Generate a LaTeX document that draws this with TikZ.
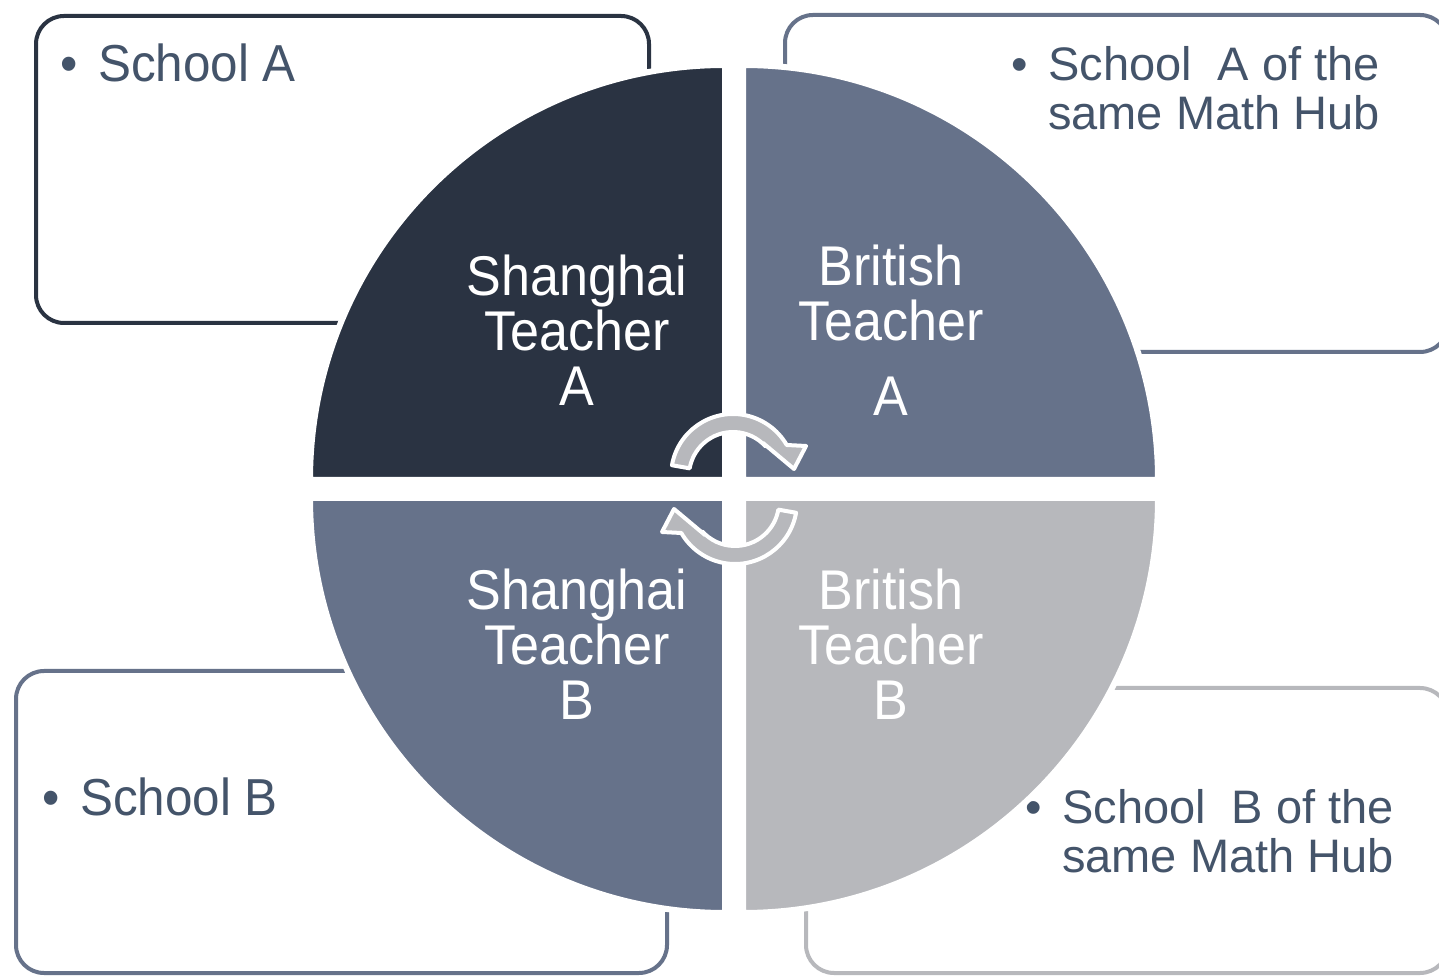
\documentclass[tikz,border=0pt]{standalone}
\usepackage{fontspec}
\setmainfont{Liberation Sans}
\newfontfamily\quadfont[FakeStretch=0.93]{Liberation Sans}
\newfontfamily\boxfont[FakeStretch=0.95]{Liberation Sans}
\newfontfamily\hubfont{Liberation Sans}
\usepackage{tikz}

\definecolor{hubnavy}{HTML}{2A3342}
\definecolor{hubslate}{HTML}{66728A}
\definecolor{hubgray}{HTML}{B7B8BC}
\definecolor{hubink}{HTML}{44546A}

\tikzset{
	schoolbox/.style={draw, line width=4pt, rounded corners=28pt, fill=white, inner sep=0pt},
	quarter/.style={draw=white, line width=6pt},
	teacher/.style={text=white, align=center, inner sep=0pt, font=\quadfont\fontsize{56}{55}\selectfont},
	schooltext/.style={text=hubink, inner sep=0pt, font=\boxfont\fontsize{52}{50}\selectfont},
	hubtext/.style={text=hubink, inner sep=0pt, align=left, font=\hubfont\fontsize{47}{49}\selectfont},
	swap/.style={fill=hubgray, draw=white, line width=4pt, line join=round}
}

% one bent arrow of the exchange, centred on the origin
\newcommand{\swaparrow}{%
	(170:62) arc[start angle=170, end angle=30, radius=62]
	-- (73,30) -- (61,7) -- (30,33) -- (42:44)
	arc[start angle=42, end angle=170, radius=44] -- cycle}

\begin{document}
\begin{tikzpicture}[x=1pt, y=1pt]
	\clip (0,0) rectangle (1439,977);
	\fill[white] (0,0) rectangle (1439,977);

	% school boxes behind the circle
	\node[schoolbox, draw=hubnavy,  minimum width=613pt, minimum height=307pt] (boxA)   at (342.5,807.5) {};
	\node[schoolbox, draw=hubslate, minimum width=663pt, minimum height=337pt] (boxHA)  at (1116.5,793.5) {};
	\node[schoolbox, draw=hubslate, minimum width=651pt, minimum height=302pt] (boxB)   at (341.5,155) {};
	\node[schoolbox, draw=hubgray,  minimum width=642pt, minimum height=285pt] (boxHB)  at (1127,146.5) {};

	\node[schooltext, anchor=base west] (schoolA) at (98,895) {\llap{•\hspace{20pt}}School A};
	\node[schooltext, anchor=base west] (schoolB) at (80,162) {\llap{•\hspace{20pt}}School B};
	\node[hubtext, anchor=north west] (hubA) at (1048,931) {\llap{•\hspace{20pt}}School\ \ A of the\\same Math Hub};
	\node[hubtext, anchor=north west] (hubB) at (1062,188) {\llap{•\hspace{20pt}}School\ \ B of the\\same Math Hub};

	% the four quarters
	\path[quarter, fill=hubnavy]  (725,497) -- ++(-415,0) arc[start angle=180, end angle=90, radius=415] -- cycle;
	\path[quarter, fill=hubslate] (743,497) -- ++(0,415) arc[start angle=90, end angle=0, radius=415] -- cycle;
	\path[quarter, fill=hubslate] (725,479) -- ++(0,-415) arc[start angle=270, end angle=180, radius=415] -- cycle;
	\path[quarter, fill=hubgray]  (743,479) -- ++(415,0) arc[start angle=0, end angle=-90, radius=415] -- cycle;

	\node[teacher] (shA) at (577,647)   {Shanghai\\Teacher\\A};
	\node[teacher] (brA) at (891,647)   {British\\Teacher\\[20pt]A};
	\node[teacher] (shB) at (577,332.5) {Shanghai\\Teacher\\B};
	\node[teacher] (brB) at (891,332.5) {British\\Teacher\\B};

	% exchange arrows
	\begin{scope}[shift={(733,501)}]
		\path[swap] \swaparrow;
	\end{scope}
	\begin{scope}[shift={(735,475)}, rotate=180]
		\path[swap] \swaparrow;
	\end{scope}
\end{tikzpicture}
\end{document}
